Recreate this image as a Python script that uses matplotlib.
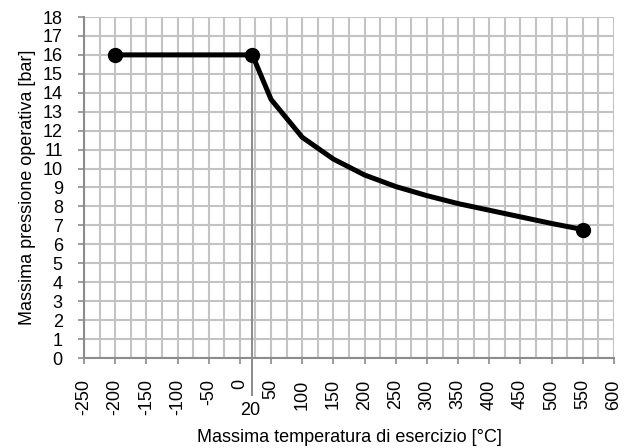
"""Pressure / temperature derating chart."""

import matplotlib
matplotlib.use('Agg')
import matplotlib.pyplot as plt
from matplotlib.ticker import MultipleLocator
import numpy as np


temperature = [-200, 20, 50, 100, 150, 200, 250, 300, 350, 400, 450, 500, 550]
pressure = [16, 16, 13.65, 11.65, 10.5, 9.66, 9.05, 8.57, 8.15, 7.8, 7.45, 7.1, 6.78]
marker_idx = [0, 1, 12]
ref_temp = 20

x_ticks = list(range(-250, 601, 50))
y_ticks = list(range(0, 19))

plt.rcParams['font.family'] = ['Liberation Sans', 'DejaVu Sans']
FS = 13

fig = plt.figure(figsize=(6.34, 4.48), dpi=100)
ax = fig.add_axes([84 / 634, 90 / 448, 530 / 634, 341 / 448])

ax.set_xlim(x_ticks[0], x_ticks[-1])
ax.set_ylim(y_ticks[0], y_ticks[-1])
ax.set_xticks(x_ticks)
ax.set_yticks(y_ticks)
ax.xaxis.set_minor_locator(MultipleLocator(25))
ax.set_xticklabels([str(t) for t in x_ticks], rotation=90, fontsize=FS)
ax.set_yticklabels([str(t) for t in y_ticks], fontsize=FS)

grid_color = '#c3c3c3'
ax.grid(True, which='both', axis='x', color=grid_color, linewidth=1.5)
ax.grid(True, which='major', axis='y', color=grid_color, linewidth=1.5)
ax.set_axisbelow(True)

for side in ['top', 'right']:
    ax.spines[side].set_visible(False)
for side in ['left', 'bottom']:
    ax.spines[side].set_color('#8c8c8c')
    ax.spines[side].set_linewidth(1.5)
ax.tick_params(axis='both', which='major', color='#8c8c8c', width=1.2, length=4.3, pad=11)
ax.tick_params(axis='x', which='minor', length=0)

# reference line at 20 °C running below the axis
ax.plot([ref_temp, ref_temp], [pressure[1], -1.95], color='#8a8a8a',
        linewidth=1.4, clip_on=False, zorder=2)
ax.text(ref_temp - 3, -2.3, str(ref_temp), ha='center', va='top', fontsize=FS)

ax.plot(temperature, pressure, color='black', linewidth=3.6, zorder=3,
        solid_joinstyle='round')
ax.plot(np.array(temperature)[marker_idx], np.array(pressure)[marker_idx], 'o',
        color='black', markersize=10, zorder=4, clip_on=False)

ax.set_xlabel('Massima temperatura di esercizio [°C]', fontsize=FS, labelpad=10)
ax.set_ylabel('Massima pressione operativa [bar]', fontsize=FS, labelpad=5)

fig.savefig('out.png', dpi=100)
